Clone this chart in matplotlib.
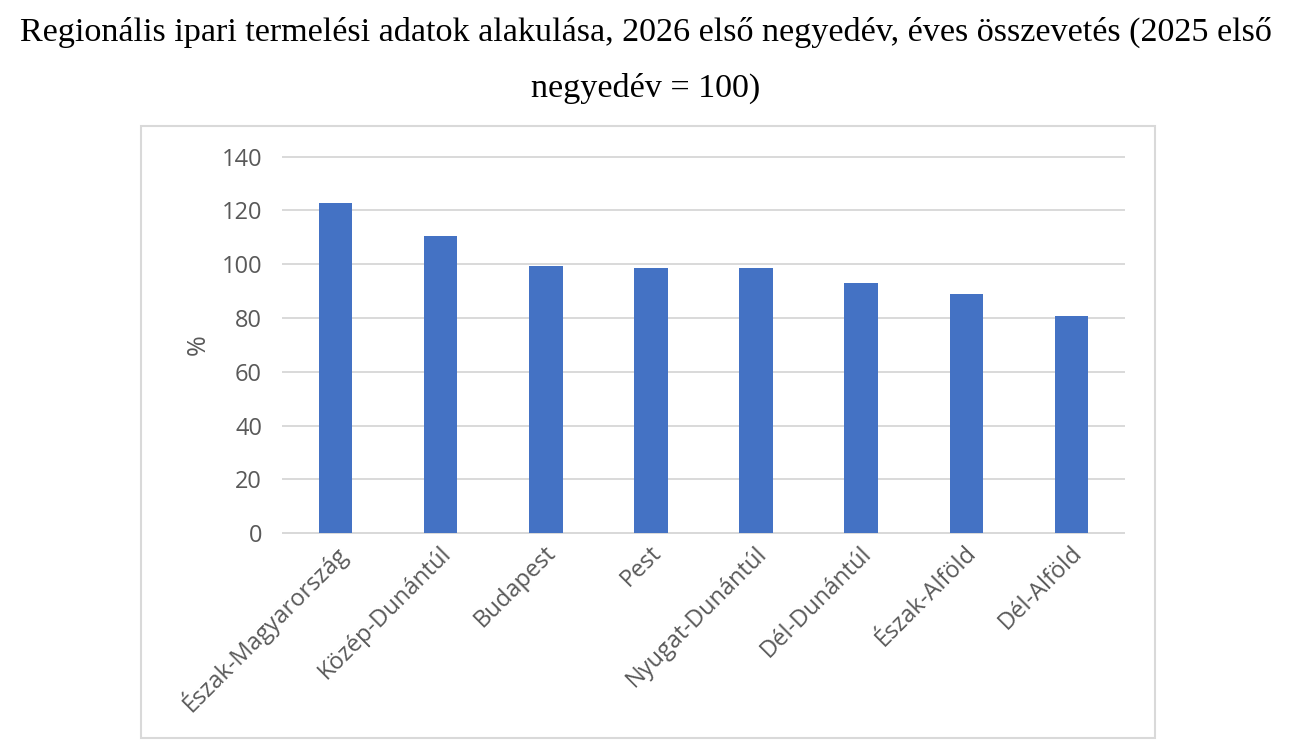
import numpy as np
import matplotlib.pyplot as plt
import matplotlib.transforms as mtransforms
from matplotlib.patches import Rectangle

regions = ['Észak-Magyarország', 'Közép-Dunántúl', 'Budapest', 'Pest',
           'Nyugat-Dunántúl', 'Dél-Dunántúl', 'Észak-Alföld', 'Dél-Alföld']
values = [122.8, 110.5, 99.3, 98.6, 98.6, 93.0, 88.9, 80.7]
y_ticks = [0, 20, 40, 60, 80, 100, 120, 140]

title_1 = 'Regionális ipari termelési adatok alakulása, 2026 első negyedév, éves összevetés (2025 első'
title_2 = 'negyedév = 100)'

fig = plt.figure(figsize=(12.92, 7.52), dpi=100)
fig.patch.set_facecolor('white')

# chart frame (light grey box around the plot)
fig.patches.append(Rectangle((0.109, 0.0186), 0.785, 0.8138, transform=fig.transFigure,
                             fill=False, edgecolor='#D9D9D9', linewidth=1.5))

fig.text(0.5, 0.957, title_1, ha='center', va='center', fontsize=24.6,
         family='Liberation Serif', color='black')
fig.text(0.5, 0.883, title_2, ha='center', va='center', fontsize=24.6,
         family='Liberation Serif', color='black')

ax = fig.add_axes([0.219, 0.291, 0.651, 0.5006])
x = np.arange(len(regions))
ax.bar(x, values, width=0.32, color='#4472C4', zorder=3)

ax.set_xlim(-0.5, len(regions) - 0.5)
ax.set_ylim(0, 140)
ax.set_yticks(y_ticks)
ax.yaxis.grid(True, color='#D9D9D9', linewidth=1.4, zorder=0)
ax.set_axisbelow(True)
for line in ax.get_ygridlines():
    line.set_clip_on(False)
for s in ['top', 'right', 'left']:
    ax.spines[s].set_visible(False)
ax.spines['bottom'].set_color('#D9D9D9')
ax.spines['bottom'].set_linewidth(1.4)

ax.tick_params(axis='both', length=0, colors='#595959', labelsize=17)
ax.tick_params(axis='y', pad=15)
ax.set_xticks(x)
ax.set_xticklabels(regions, rotation=45, ha='right', va='center', rotation_mode='anchor',
                   family='Open Sans', fontsize=17, color='#595959')
for lab in ax.get_yticklabels():
    lab.set_family('Open Sans')
ax.tick_params(axis='x', pad=12)

# nudge rotated labels a little to the right, like the original
shift = mtransforms.ScaledTranslation(7 / 100, 0, fig.dpi_scale_trans)
for lab in ax.get_xticklabels():
    lab.set_transform(lab.get_transform() + shift)

ax.set_ylabel('%', family='Open Sans', fontsize=18, color='#595959', labelpad=8)

fig.savefig('out.png', dpi=100, facecolor='white')
